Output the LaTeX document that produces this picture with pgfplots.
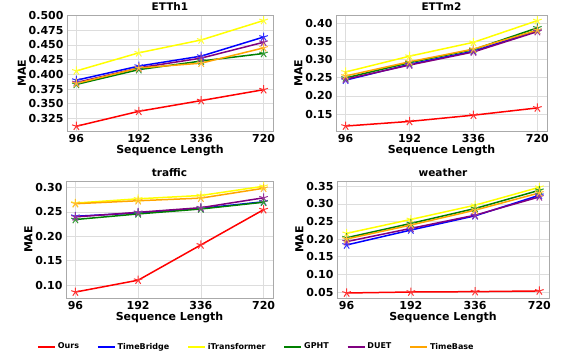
\documentclass[border=0pt]{standalone}
\usepackage{pgfplots}
\pgfplotsset{compat=1.18}
\usepackage{fontspec}
\setmainfont{DejaVu Sans}
\definecolor{cgreen}{HTML}{008000}
\definecolor{cpurple}{HTML}{800080}
\definecolor{corange}{HTML}{FFA500}
\definecolor{cyellow}{HTML}{FFFF00}
\definecolor{cred}{HTML}{FF0000}
\definecolor{cblue}{HTML}{0000FF}
\definecolor{frame}{HTML}{AAAAAA}
\definecolor{gridc}{HTML}{DDDDDD}
\pgfplotsset{
  panel/.style={
    scale only axis,
    xmin=-0.15, xmax=3.15,
    xtick={0,1,2,3}, xticklabels={96,192,336,720},
    axis line style={frame, line width=0.8pt},
    grid=major, major grid style={gridc, line width=0.6pt},
    tick style={draw=none},
    ticklabel style={font=\fontsize{11}{11}\selectfont\bfseries},
    /pgf/number format/assume math mode=true,
    /pgf/number format/fixed, /pgf/number format/fixed zerofill,
    label style={font=\fontsize{11}{11}\selectfont\bfseries},
    title style={font=\fontsize{10.5}{10.5}\selectfont\bfseries, yshift=-5pt},
    xlabel={Sequence Length}, ylabel={MAE},
    xlabel style={yshift=5pt}, ylabel style={yshift=-4pt},
    every axis plot/.append style={line width=1.5pt, mark=star, mark size=4.5pt},
    anchor=north west,
  },
  sOurs/.style={color=cred, mark options={solid, fill=cred, draw=cred!80!white, line width=1pt}},
  sTB/.style={color=cblue, mark options={solid, fill=cblue, draw=cblue!80!white, line width=1pt}},
  sIT/.style={color=cyellow, mark options={solid, fill=cyellow, draw=cyellow!80!white, line width=1pt}},
  sGP/.style={color=cgreen, mark options={solid, fill=cgreen, draw=cgreen!80!white, line width=1pt}},
  sDU/.style={color=cpurple, mark options={solid, fill=cpurple, draw=cpurple!80!white, line width=1pt}},
  sBase/.style={color=corange, mark options={solid, fill=corange, draw=corange!80!white, line width=1pt}},
}
\begin{document}
\begin{tikzpicture}
\useasboundingbox (0pt,0pt) rectangle (567pt,356pt);
% ETTh1
\begin{axis}[panel, at={(67pt,341pt)}, width=206pt, height=116pt,
  title={ETTh1}, ymin=0.3035, ymax=0.501,
  ytick={0.325,0.350,0.375,0.400,0.425,0.450,0.475,0.500},
  yticklabel style={/pgf/number format/precision=3},
  legend columns=6,
  legend style={at={(0.92,-1.86)}, anchor=center, draw=none, fill=none,
    font=\fontsize{8}{8}\selectfont\bfseries, text=black,
    /tikz/every even column/.append style={column sep=16pt}},
  legend image post style={mark=none, line width=1.5pt},
]
\addplot[sOurs] coordinates {(0,0.3116) (1,0.337) (2,0.3553) (3,0.3738)};
\addplot[sTB] coordinates {(0,0.390) (1,0.414) (2,0.431) (3,0.4635)};
\addplot[sIT] coordinates {(0,0.4058) (1,0.4366) (2,0.4585) (3,0.4916)};
\addplot[sGP] coordinates {(0,0.3828) (1,0.408) (2,0.4226) (3,0.4355)};
\addplot[sDU] coordinates {(0,0.386) (1,0.411) (2,0.4276) (3,0.4546)};
\addplot[sBase] coordinates {(0,0.3845) (1,0.4108) (2,0.419) (3,0.445)};
\legend{Ours,TimeBridge,iTransformer,GPHT,DUET,TimeBase}
\end{axis}
% ETTm2
\begin{axis}[panel, at={(336pt,341pt)}, width=211pt, height=116pt,
  title={ETTm2}, ymin=0.1038, ymax=0.4226,
  ytick={0.15,0.20,0.25,0.30,0.35,0.40},
  yticklabel style={/pgf/number format/precision=2},
]
\addplot[sOurs] coordinates {(0,0.1174) (1,0.1301) (2,0.1473) (3,0.1672)};
\addplot[sTB] coordinates {(0,0.2435) (1,0.287) (2,0.323) (3,0.380)};
\addplot[sIT] coordinates {(0,0.266) (1,0.3094) (2,0.3475) (3,0.4072)};
\addplot[sGP] coordinates {(0,0.2496) (1,0.2917) (2,0.3275) (3,0.3873)};
\addplot[sDU] coordinates {(0,0.246) (1,0.285) (2,0.321) (3,0.377)};
\addplot[sBase] coordinates {(0,0.255) (1,0.294) (2,0.329) (3,0.381)};
\end{axis}
% traffic
\begin{axis}[panel, at={(66pt,175pt)}, width=207pt, height=117pt,
  title={traffic}, ymin=0.0736, ymax=0.3135,
  ytick={0.10,0.15,0.20,0.25,0.30},
  yticklabel style={/pgf/number format/precision=2},
]
\addplot[sOurs] coordinates {(0,0.0858) (1,0.1101) (2,0.1824) (3,0.2547)};
\addplot[sTB] coordinates {(0,0.2412) (1,0.248) (2,0.2574) (3,0.2709)};
\addplot[sIT] coordinates {(0,0.2682) (1,0.277) (2,0.2838) (3,0.3027)};
\addplot[sGP] coordinates {(0,0.2345) (1,0.246) (2,0.2561) (3,0.270)};
\addplot[sDU] coordinates {(0,0.2399) (1,0.2493) (2,0.2588) (3,0.279)};
\addplot[sBase] coordinates {(0,0.2669) (1,0.2730) (2,0.2784) (3,0.2986)};
\end{axis}
% weather
\begin{axis}[panel, at={(337pt,175pt)}, width=212pt, height=117pt,
  title={weather}, ymin=0.033, ymax=0.365,
  ytick={0.05,0.10,0.15,0.20,0.25,0.30,0.35},
  yticklabel style={/pgf/number format/precision=2},
]
\addplot[sOurs] coordinates {(0,0.0472) (1,0.050) (2,0.051) (3,0.053)};
\addplot[sTB] coordinates {(0,0.1835) (1,0.2258) (2,0.2662) (3,0.3246)};
\addplot[sIT] coordinates {(0,0.2164) (1,0.2559) (2,0.2964) (3,0.3472)};
\addplot[sGP] coordinates {(0,0.204) (1,0.2446) (2,0.287) (3,0.3387)};
\addplot[sDU] coordinates {(0,0.193) (1,0.2305) (2,0.268) (3,0.3199)};
\addplot[sBase] coordinates {(0,0.2004) (1,0.240) (2,0.2823) (3,0.3312)};
\end{axis}
\end{tikzpicture}
\end{document}
